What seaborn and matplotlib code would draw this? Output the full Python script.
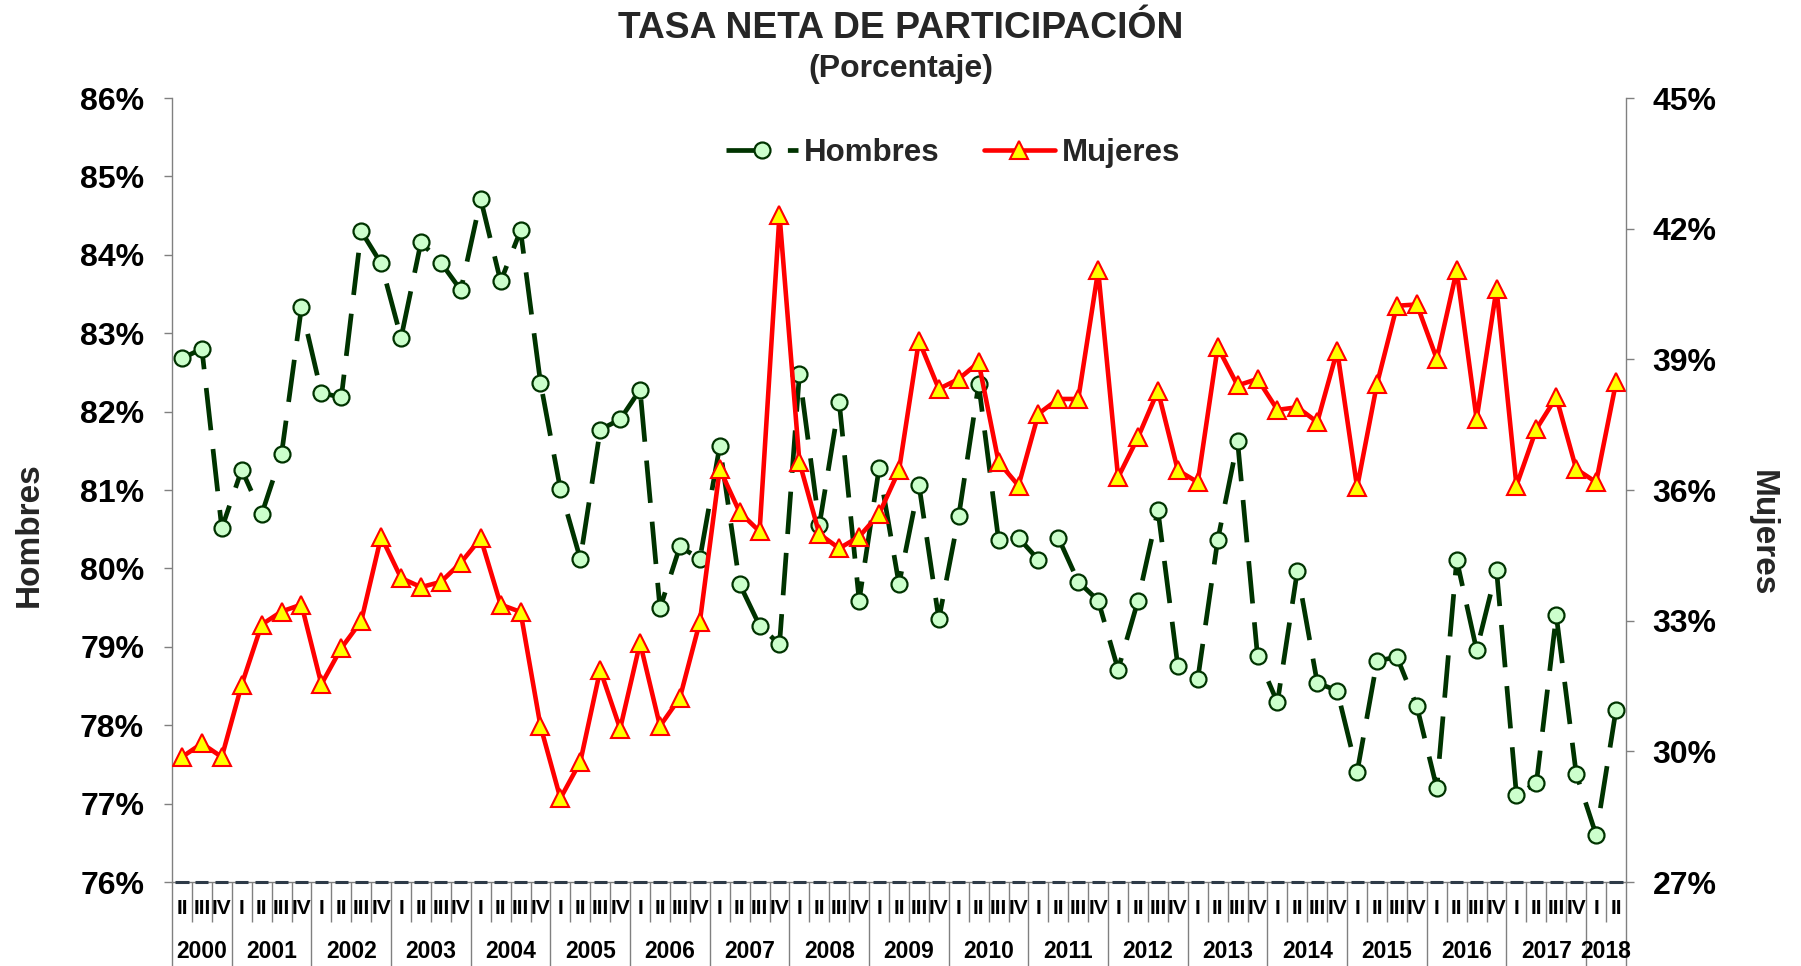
import numpy as np
import pandas as pd
import matplotlib
matplotlib.use("Agg")
import matplotlib.pyplot as plt
import seaborn as sns
from matplotlib.ticker import FuncFormatter

# ---- data: quarterly net participation rate (%) ----
anios = ["2000", "2001", "2002", "2003", "2004", "2005", "2006", "2007", "2008",
         "2009", "2010", "2011", "2012", "2013", "2014", "2015", "2016", "2017", "2018"]
trimestres_anio = [
    ["II", "III", "IV"],
    ["I", "II", "III", "IV"], ["I", "II", "III", "IV"], ["I", "II", "III", "IV"],
    ["I", "II", "III", "IV"], ["I", "II", "III", "IV"], ["I", "II", "III", "IV"],
    ["I", "II", "III", "IV"], ["I", "II", "III", "IV"], ["I", "II", "III", "IV"],
    ["I", "II", "III", "IV"], ["I", "II", "III", "IV"], ["I", "II", "III", "IV"],
    ["I", "II", "III", "IV"], ["I", "II", "III", "IV"], ["I", "II", "III", "IV"],
    ["I", "II", "III", "IV"], ["I", "II", "III", "IV"],
    ["I", "II"],
]

hombres = [
    82.68, 82.80, 80.51,
    81.26, 80.69, 81.46, 83.33,
    82.24, 82.18, 84.30, 83.89,
    82.94, 84.16, 83.90, 83.55,
    84.71, 83.66, 84.31, 82.37,
    81.01, 80.12, 81.77, 81.90,
    82.28, 79.49, 80.28, 80.12,
    81.56, 79.80, 79.27, 79.03,
    82.48, 80.55, 82.12, 79.59,
    81.28, 79.80, 81.07, 79.35,
    80.67, 82.35, 80.36, 80.39,
    80.11, 80.39, 79.83, 79.59,
    78.71, 79.59, 80.74, 78.75,
    78.59, 80.36, 81.62, 78.88,
    78.29, 79.97, 78.54, 78.44,
    77.40, 78.82, 78.87, 78.24,
    77.20, 80.11, 78.96, 79.98,
    77.11, 77.26, 79.40, 77.38,
    76.60, 78.20,
]

mujeres = [
    29.87, 30.18, 29.87,
    31.53, 32.91, 33.21, 33.37,
    31.54, 32.37, 32.99, 34.93,
    33.98, 33.77, 33.89, 34.33,
    34.89, 33.37, 33.20, 30.58,
    28.92, 29.76, 31.87, 30.52,
    32.49, 30.58, 31.23, 32.97,
    36.48, 35.49, 35.05, 42.32,
    36.64, 34.99, 34.66, 34.93,
    35.45, 36.45, 39.43, 38.32,
    38.55, 38.93, 36.64, 36.10,
    37.75, 38.09, 38.09, 41.04,
    36.29, 37.21, 38.28, 36.45,
    36.18, 39.28, 38.40, 38.55,
    37.84, 37.90, 37.56, 39.20,
    36.06, 38.44, 40.23, 40.26,
    39.01, 41.04, 37.63, 40.62,
    36.10, 37.40, 38.13, 36.48,
    36.18, 38.47,
]

# ---- build the period table ----
filas = []
for anio, qs in zip(anios, trimestres_anio):
    for q in qs:
        filas.append((anio, q))
df = pd.DataFrame(filas, columns=["anio", "trimestre"])
df["pos"] = np.arange(len(df))
df["hombres"] = hombres
df["mujeres"] = mujeres

# ---- styling ----
sns.set_theme(style="white")
plt.rcParams["font.family"] = ["Liberation Sans", "DejaVu Sans"]
plt.rcParams["font.weight"] = "bold"

VERDE = "#003300"
VERDE_CLARO = "#CCFFCC"
ROJO = "#FF0000"
AMARILLO = "#FFFF00"
GRIS = "#808080"

W, H = 1801, 966
fig = plt.figure(figsize=(W / 100, H / 100), dpi=100)
x0, x1, y0, y1 = 172, 1626, 98, 882
ax = fig.add_axes([x0 / W, 1 - y1 / H, (x1 - x0) / W, (y1 - y0) / H])
ax2 = ax.twinx()

sns.lineplot(data=df, x="pos", y="hombres", ax=ax, color=VERDE, linewidth=3.4,
             marker="o", markersize=11.5, markerfacecolor=VERDE_CLARO,
             markeredgecolor=VERDE, markeredgewidth=1.6, label="Hombres", legend=False)
linea_h = ax.lines[-1]
linea_h.set_linestyle((0, (9, 4)))

sns.lineplot(data=df, x="pos", y="mujeres", ax=ax2, color=ROJO, linewidth=3.3,
             marker="^", markersize=13, markerfacecolor=AMARILLO,
             markeredgecolor=ROJO, markeredgewidth=1.5, label="Mujeres", legend=False)
linea_m = ax2.lines[-1]

n = len(df)
ax.set_xlim(-0.5, n - 0.5)
ax.set_ylim(76, 86)
ax.set_yticks(np.arange(76, 87, 1))
ax2.set_ylim(27, 45)
ax2.set_yticks(np.arange(27, 46, 3))
fmt = FuncFormatter(lambda v, _: f"{v:.0f}%")
ax.yaxis.set_major_formatter(fmt)
ax2.yaxis.set_major_formatter(fmt)
ax.set_xticks([])
ax2.set_xticks([])
ax.set_xlabel("")
ax.set_ylabel("")
ax2.set_xlabel("")
ax2.set_ylabel("")

for a in (ax, ax2):
    a.grid(False)
    a.spines["top"].set_visible(False)
    for s in ("left", "right", "bottom"):
        a.spines[s].set_color(GRIS)
        a.spines[s].set_linewidth(1.0)
ax.spines["right"].set_visible(False)
ax2.spines["left"].set_visible(False)
ax2.spines["bottom"].set_visible(False)

ax.tick_params(axis="y", which="major", direction="out", length=6, width=1,
               color=GRIS, pad=14, labelsize=23, labelcolor="black", left=True)
ax2.tick_params(axis="y", which="major", direction="out", length=6, width=1,
                color=GRIS, pad=13, labelsize=23, labelcolor="black", right=True)
for lab in ax.get_yticklabels() + ax2.get_yticklabels():
    lab.set_fontweight("bold")

# dashed baseline at the bottom of the scale
base = np.full(n, 76.0)
ax.hlines(base, df["pos"].to_numpy() - 0.33, df["pos"].to_numpy() + 0.33,
          color="#2E3B48", linewidth=2.2, clip_on=False, zorder=5)

# category separators and labels below the axis
tr = ax.get_xaxis_transform()
alto = y1 - y0
y_qtick = -(922 - y1) / alto
y_ytick = -(H - y1) / alto
y_qlab = -(909 - y1) / alto
y_ylab = -(951 - y1) / alto

inicio = 0
limites_anio = [-0.5]
for anio, qs in zip(anios, trimestres_anio):
    fin = inicio + len(qs)
    limites_anio.append(fin - 0.5)
    ax.text((inicio + fin - 1) / 2, y_ylab, anio, transform=tr, ha="center", va="center",
            fontsize=16.5, fontweight="bold", color="black", clip_on=False)
    inicio = fin

for p, q in zip(df["pos"], df["trimestre"]):
    ax.text(p, y_qlab, q, transform=tr, ha="center", va="center",
            fontsize=15, fontweight="bold", color="black", clip_on=False)

sep_cortos = [p + 0.5 for p in df["pos"][:-1] if (p + 0.5) not in limites_anio]
ax.vlines(sep_cortos, y_qtick, 0, transform=tr, color=GRIS, linewidth=1, clip_on=False)
ax.vlines(limites_anio, y_ytick, 0, transform=tr, color=GRIS, linewidth=1, clip_on=False)

# legend
ax2.legend(handles=[linea_h, linea_m], labels=["Hombres", "Mujeres"], loc="center",
           bbox_to_anchor=(953 / W, 1 - 153 / H), bbox_transform=fig.transFigure,
           ncol=2, frameon=False, handlelength=2.3, handletextpad=0.2,
           columnspacing=1.4, numpoints=1, prop={"weight": "bold", "size": 22.5})

# titles and axis names
fig.text(0.5, 1 - 28 / H, "TASA NETA DE PARTICIPACIÓN", ha="center", va="center",
         fontsize=26.8, fontweight="bold")
fig.text(0.5, 1 - 69 / H, "(Porcentaje)", ha="center", va="center",
         fontsize=23, fontweight="bold")
fig.text(29 / W, 1 - 535 / H, "Hombres", rotation=90, ha="center", va="center",
         fontsize=24, fontweight="bold")
fig.text(1762 / W, 1 - 533 / H, "Mujeres", rotation=-90, ha="center", va="center",
         fontsize=24, fontweight="bold")

fig.savefig("out.png", dpi=100)
